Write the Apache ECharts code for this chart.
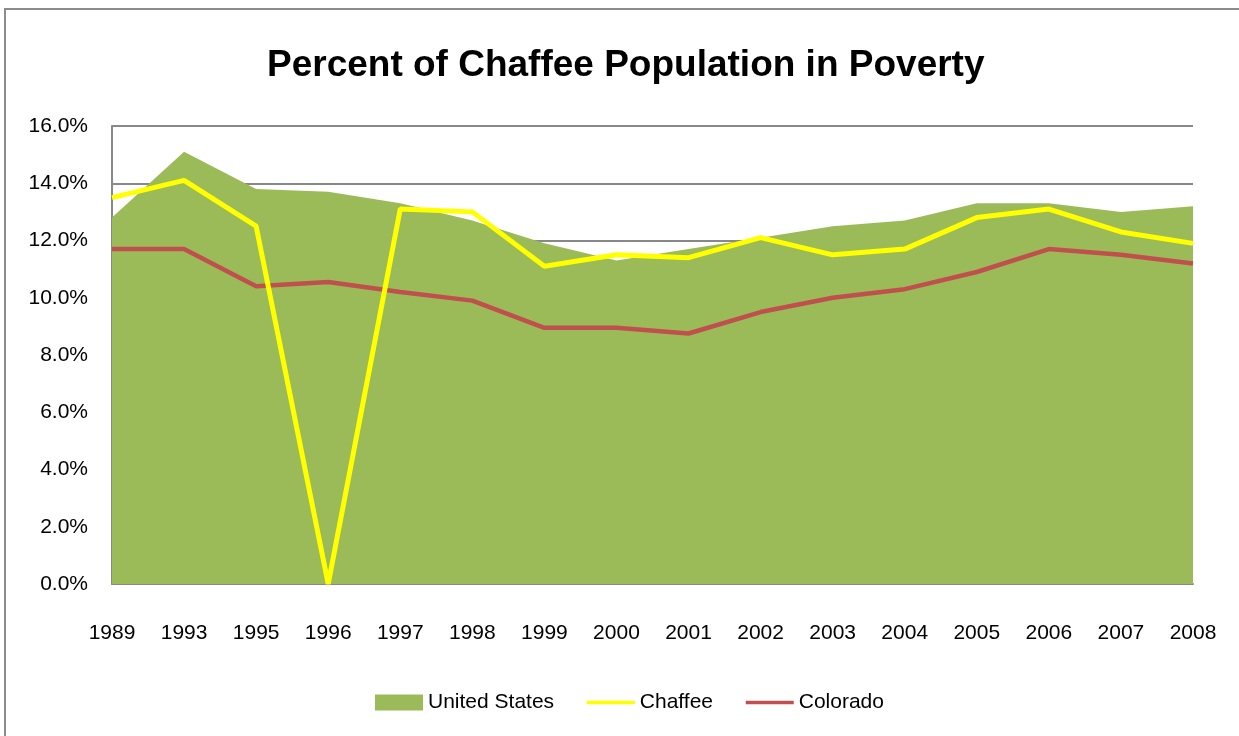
<!DOCTYPE html>
<html>
<head>
<meta charset="utf-8">
<style>
html,body{margin:0;padding:0;background:#fff;}
#chart{width:1239px;height:736px;}
</style>
<script src="https://cdn.jsdelivr.net/npm/echarts@6/dist/echarts.min.js"></script>
</head>
<body>
<div id="chart"></div>
<script>
const years = ['1989','1993','1995','1996','1997','1998','1999','2000','2001','2002','2003','2004','2005','2006','2007','2008'];
const unitedStates = [12.8, 15.1, 13.8, 13.7, 13.3, 12.7, 11.9, 11.3, 11.7, 12.1, 12.5, 12.7, 13.3, 13.3, 13.0, 13.2];
const chaffee = [13.5, 14.1, 12.5, 0.0, 13.1, 13.0, 11.1, 11.5, 11.4, 12.1, 11.5, 11.7, 12.8, 13.1, 12.3, 11.9];
const colorado = [11.7, 11.7, 10.4, 10.55, 10.2, 9.9, 8.95, 8.95, 8.75, 9.5, 10.0, 10.3, 10.9, 11.7, 11.5, 11.2];
const yTicks = {min: 0, max: 16, interval: 2};

const labelFont = "'Liberation Sans', Arial, sans-serif";
const chart = echarts.init(document.getElementById('chart'), null, {renderer: 'canvas'});
chart.setOption({
  animation: false,
  backgroundColor: '#ffffff',
  graphic: [{
    type: 'rect',
    shape: {x: 5, y: 9, width: 1400, height: 900},
    style: {fill: 'none', stroke: '#8c8c8c', lineWidth: 2},
    silent: true
  }],
  title: {
    text: 'Percent of Chaffee Population in Poverty',
    left: 262,
    top: 42,
    textStyle: {
      fontFamily: labelFont,
      fontWeight: 'bold',
      fontSize: 37,
      color: '#000'
    }
  },
  legend: {
    data: [
      {name: 'United States', icon: 'rect', itemStyle: {color: '#9BBB59'}},
      {name: 'Chaffee', itemStyle: {opacity: 0}, lineStyle: {width: 3.5, color: '#FFFF00'}},
      {name: 'Colorado', itemStyle: {opacity: 0}, lineStyle: {width: 3.5, color: '#C0504D'}}
    ],
    left: 370,
    top: 687,
    itemWidth: 48,
    itemHeight: 16,
    itemGap: 31,
    textStyle: {fontFamily: labelFont, fontSize: 21, color: '#000'}
  },
  grid: {left: 112, right: 46, top: 126, bottom: 152, containLabel: false},
  xAxis: {
    type: 'category',
    data: years,
    boundaryGap: false,
    axisLine: {show: true, lineStyle: {color: '#888888', width: 2}},
    axisTick: {show: false},
    axisLabel: {fontFamily: labelFont, fontSize: 21, color: '#000', margin: 39, interval: 0},
    splitLine: {show: false}
  },
  yAxis: {
    type: 'value',
    min: yTicks.min,
    max: yTicks.max,
    interval: yTicks.interval,
    axisLine: {show: true, lineStyle: {color: '#888888', width: 2}},
    axisTick: {show: false},
    axisLabel: {fontFamily: labelFont, fontSize: 21, color: '#000', margin: 24,
      formatter: v => v.toFixed(1) + '%'},
    splitLine: {show: true, lineStyle: {color: '#888888', width: 2}}
  },
  series: [
    {
      name: 'United States',
      type: 'line',
      data: unitedStates,
      symbol: 'none',
      lineStyle: {width: 0, color: '#9BBB59'},
      itemStyle: {color: '#9BBB59'},
      areaStyle: {color: '#9BBB59', opacity: 1},
      z: 1
    },
    {
      name: 'Colorado',
      type: 'line',
      data: colorado,
      symbol: 'none',
      lineStyle: {width: 4.5, color: '#C0504D'},
      itemStyle: {color: '#C0504D'},
      z: 2
    },
    {
      name: 'Chaffee',
      type: 'line',
      data: chaffee,
      symbol: 'none',
      lineStyle: {width: 5, color: '#FFFF00'},
      itemStyle: {color: '#FFFF00'},
      z: 3
    }
  ]
});
</script>
</body>
</html>
